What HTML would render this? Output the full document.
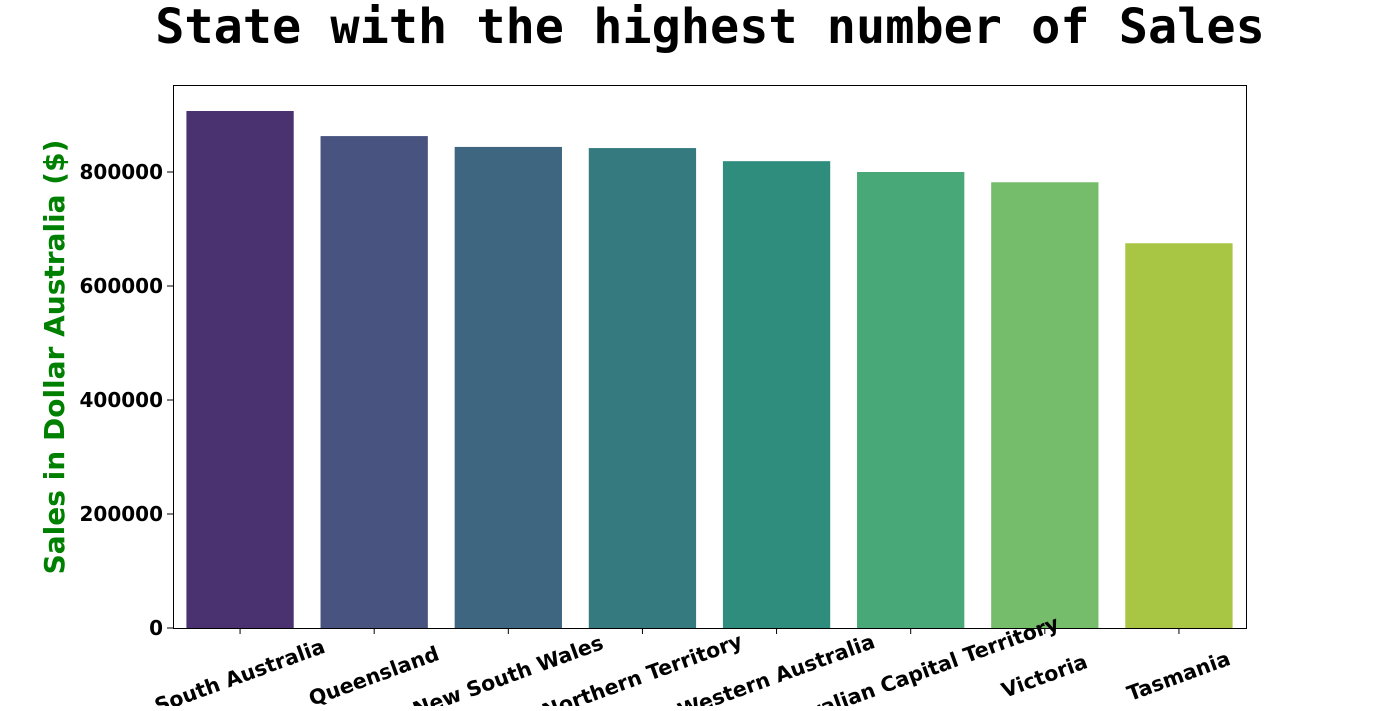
<!DOCTYPE html>
<html><head><meta charset="utf-8"><style>
body{margin:0;background:#fff;}
svg text{font-family:"DejaVu Sans","Liberation Sans",sans-serif;font-weight:bold;}
</style></head><body>
<svg id="chart" width="1384" height="706" xmlns="http://www.w3.org/2000/svg">
<text x="710" y="43" text-anchor="middle" style="font-family:'DejaVu Sans Mono','Liberation Mono',monospace;font-size:48.5px;font-weight:bold">State with the highest number of Sales</text>
<text transform="translate(64,357) rotate(-90)" text-anchor="middle" fill="#008000" font-size="28">Sales in Dollar Australia ($)</text>
<g id="bars"></g>
<g id="axes"></g>
<rect x="173.5" y="85.5" width="1073" height="543" fill="none" stroke="#000" stroke-width="1"/>
</svg>
<script>
const categories=["South Australia","Queensland","New South Wales","Northern Territory","Western Australia","Australian Capital Territory","Victoria","Tasmania"];
const sales=[907000,863000,844000,842000,819000,800000,782000,675000];
const yTicks=[0,200000,400000,600000,800000];
const colors=["#4a3170","#48537f","#3e6680","#357a7f","#2f8d7d","#48a878","#75bd6a","#a8c544"];
const NS="http://www.w3.org/2000/svg";
const x0=173,x1=1246,yBase=628,pxPer=456/800000;
const step=(x1-x0)/categories.length;
const xc=i=>x0+step*(i+0.5);
const y=v=>yBase-v*pxPer;
const bars=document.getElementById('bars'),axes=document.getElementById('axes');
categories.forEach((c,i)=>{
  const r=document.createElementNS(NS,'rect');
  
  
  const w=step*0.8;
  r.setAttribute('x',xc(i)-w/2);r.setAttribute('width',w);
  r.setAttribute('y',y(sales[i]));r.setAttribute('height',yBase-y(sales[i]));
  r.setAttribute('fill',colors[i]);bars.appendChild(r);
  const t=document.createElementNS(NS,'line');
  
  
  t.setAttribute('x1',xc(i));t.setAttribute('x2',xc(i));t.setAttribute('y1',yBase);t.setAttribute('y2',yBase+6);
  t.setAttribute('stroke','#000');axes.appendChild(t);
  const l=document.createElementNS(NS,'text');
  
  
  l.setAttribute('text-anchor','middle');l.setAttribute('dominant-baseline','middle');
  l.setAttribute('font-size','20.5');
  l.setAttribute('transform','translate('+xc(i)+',677) rotate(-20)');
  l.textContent=c;axes.appendChild(l);
});
yTicks.forEach(v=>{
  const t=document.createElementNS(NS,'line');
  
  
  t.setAttribute('x1',167);t.setAttribute('x2',173);t.setAttribute('y1',y(v));t.setAttribute('y2',y(v));
  t.setAttribute('stroke','#000');axes.appendChild(t);
  const l=document.createElementNS(NS,'text');
  
  
  l.setAttribute('text-anchor','end');l.setAttribute('x',163);l.setAttribute('y',y(v)+7);
  l.setAttribute('font-size','20');l.textContent=v;axes.appendChild(l);
});
</script>
</body></html>
